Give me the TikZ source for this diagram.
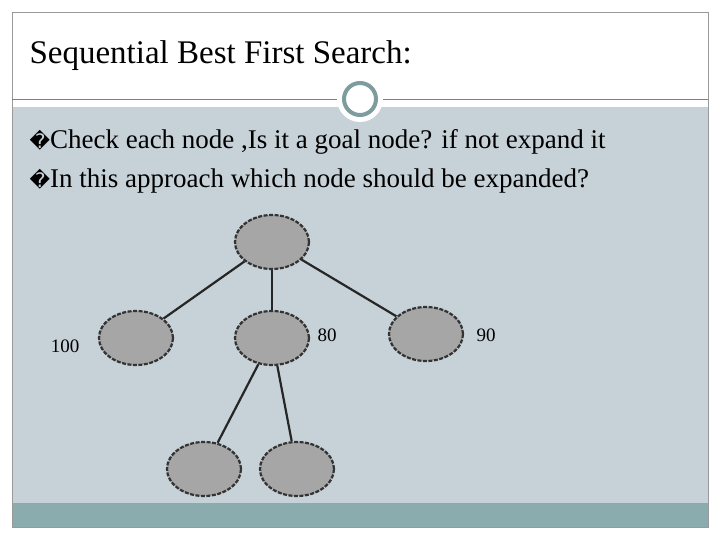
\documentclass[tikz,border=0pt]{standalone}
\usepackage{fontspec}
\usetikzlibrary{shapes.geometric}
\setmainfont{Liberation Serif}
\newfontfamily\dvs{DejaVu Sans}
\definecolor{bodybg}{HTML}{C7D1D8}
\definecolor{barbg}{HTML}{8AACAE}
\definecolor{ringc}{HTML}{7E9C9E}
\begin{document}
\begin{tikzpicture}[x=1pt,y=-1pt,
  tnode/.style={ellipse,draw=black!80,fill=gray!70,line width=2.2pt,dash pattern=on 4pt off 1.5pt,minimum width=74pt,minimum height=54pt},
  edge/.style={line width=2.2pt,black!85},
  lbl/.style={font=\fontsize{19}{22}\selectfont}]
\useasboundingbox (0,0) rectangle (720,540);
\fill[white] (0,0) rectangle (720,540);
\fill[white] (12,12) rectangle (708,100);
\fill[bodybg] (12,107) rectangle (708,503);
\fill[barbg] (12,503) rectangle (708,527);
\draw[gray!80] (12,12) rectangle (708,527);
\draw[gray,line width=1pt] (12,100) -- (708,100);
\fill[white] (360,99) circle (23);
\draw[ringc,line width=4pt,fill=white] (360,99) circle (16);
\node[anchor=west,font=\fontsize{33}{36}\selectfont] (title) at (26,56) {Sequential Best First Search:};
\node[anchor=west,font=\fontsize{27}{30}\selectfont] (b1) at (26,142) {{\dvs\fontsize{20}{22}\selectfont\char"FFFD}Check each node ,Is it a goal node? if not expand it};
\node[anchor=west,font=\fontsize{27}{30}\selectfont] (b2) at (26,181) {{\dvs\fontsize{20}{22}\selectfont\char"FFFD}In this approach which node should be expanded?};
\node[tnode] (r) at (272,242) {};
\node[tnode] (a) at (136,338) {};
\node[tnode] (b) at (272,338) {};
\node[tnode] (c) at (426,334) {};
\node[tnode] (d) at (204,469) {};
\node[tnode] (e) at (297,469) {};
\draw[edge] (r) -- (a);
\draw[edge] (r) -- (b);
\draw[edge] (r) -- (c);
\draw[edge] (b) -- (d);
\draw[edge] (b) -- (e);
\node[lbl] (l1) at (65,346) {100};
\node[lbl] (l2) at (327,335) {80};
\node[lbl] (l3) at (486,335) {90};
\end{tikzpicture}
\end{document}
